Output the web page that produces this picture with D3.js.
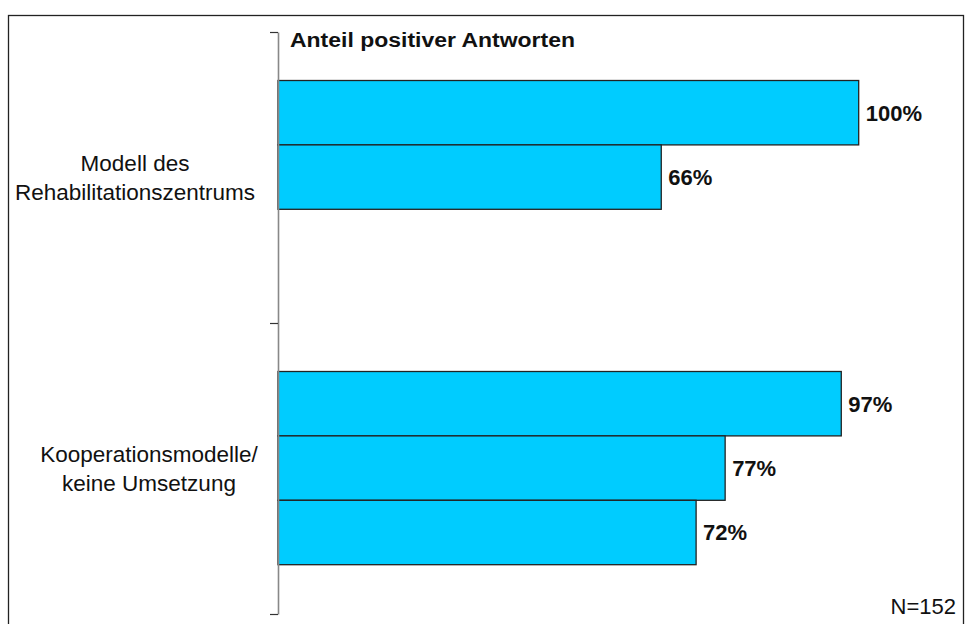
<!DOCTYPE html>
<html>
<head>
<meta charset="utf-8">
<script src="https://cdn.jsdelivr.net/npm/d3@7"></script>
<style>
  body { margin: 0; background: #fff; }
  svg { display: block; font-family: "Liberation Sans", Arial, sans-serif; }
</style>
</head>
<body>
<svg id="viz" width="965" height="624"></svg>
<script>
// data
const categories = [["Modell des", "Rehabilitationszentrums"], ["Kooperationsmodelle/", "keine Umsetzung"]];
const shares = [[1.00, 0.66], [0.97, 0.77, 0.72]];
const title = "Anteil positiver Antworten";
const note = "N=152";

const svg = d3.select("#viz");
const axisX = 278, plotTop = 32, plotBottom = 614;

// frame
svg.append("rect")
  .attr("x", 8.5).attr("y", 15.5)
  .attr("width", 955).attr("height", 620)
  .attr("fill", "none").attr("stroke", "#222").attr("stroke-width", 1.3);

const x = d3.scaleLinear().domain([0, 1]).range([axisX, 858.7]);
const y = d3.scaleBand().domain(d3.range(categories.length)).range([plotTop, plotBottom]).padding(0);
const inner = d3.scaleBand().domain(d3.range(3)).range([48.5, 48.5 + 3 * 64.4]).padding(0);

const fmt = d3.format(".0%");

const groups = svg.selectAll("g.cat")
  .data(shares)
  .enter().append("g")
  .attr("class", "cat")
  .attr("transform", (d, i) => `translate(0,${y(i)})`);

groups.selectAll("rect")
  .data(d => d)
  .enter().append("rect")
  .attr("x", x(0))
  .attr("y", (d, i) => inner(i))
  .attr("width", d => x(d) - x(0))
  .attr("height", inner.bandwidth())
  .attr("fill", "#00ccff")
  .attr("stroke", "#222")
  .attr("stroke-width", 1.3);

groups.selectAll("text.val")
  .data(d => d)
  .enter().append("text")
  .attr("class", "val")
  .attr("x", d => x(d) + 7)
  .attr("y", (d, i) => inner(i) + inner.bandwidth() / 2)
  .attr("dy", "0.36em")
  .attr("font-size", "22px")
  .attr("font-weight", "bold")
  .attr("fill", "#111")
  .text(d => fmt(d));

// category labels
const labelCenter = [135, 149];
categories.forEach((lines, i) => {
  const t = svg.append("text")
    .attr("text-anchor", "middle")
    .attr("font-size", "22.5px")
    .attr("fill", "#111");
  const cy = y(i) + y.bandwidth() / 2;
  lines.forEach((line, j) => {
    t.append("tspan")
      .attr("x", labelCenter[i])
      .attr("y", cy + 8 + (j - (lines.length - 1) / 2) * 29)
      .text(line);
  });
});

// axis with category boundary ticks
const yb = d3.scaleLinear().domain([0, categories.length]).range([plotBottom, plotTop]);
const axis = svg.append("g")
  .attr("transform", `translate(${axisX},0)`)
  .call(d3.axisLeft(yb).ticks(categories.length).tickSize(8).tickSizeOuter(0).tickFormat(""));
axis.select(".domain").attr("stroke", "#888").attr("stroke-width", 1.6);
axis.selectAll(".tick line").attr("stroke", "#333").attr("stroke-width", 1.2);

// title
svg.append("text")
  .attr("x", 290).attr("y", 47)
  .attr("font-size", "19.5px")
  .attr("font-weight", "bold")
  .attr("fill", "#111")
  .attr("textLength", 285)
  .attr("lengthAdjust", "spacingAndGlyphs")
  .text(title);

svg.append("text")
  .attr("x", 956).attr("y", 614)
  .attr("text-anchor", "end")
  .attr("font-size", "22px")
  .attr("fill", "#111")
  .text(note);
</script>
</body>
</html>
